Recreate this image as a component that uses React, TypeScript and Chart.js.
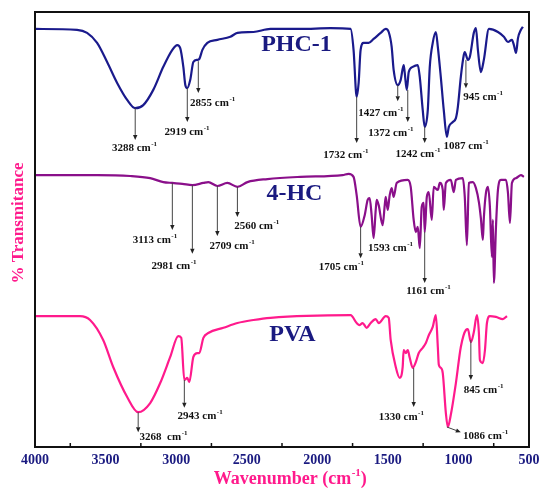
import React, { useEffect, useRef } from "react";
import { Chart, registerables } from "chart.js";

Chart.register(...registerables);

// ---- axis ----
const xMin = 500;
const xMax = 4000;
const xStep = 500;
const minorTicks = [3750, 3250, 2750, 2250, 1750, 1250, 750];

// ---- PHC-1 spectrum (wavenumber cm-1, transmittance a.u.) ----
const phcWn = [4000, 3702, 3631, 3560, 3489, 3418, 3347, 3290, 3233, 3162, 3091, 3027, 2992, 2971, 2949, 2935, 2921, 2900, 2878, 2850, 2836, 2814, 2779, 2708, 2616, 2566, 2452, 2332, 2119, 1906, 1764, 1743, 1721, 1707, 1693, 1672, 1636, 1601, 1551, 1515, 1494, 1473, 1459, 1430, 1409, 1388, 1381, 1366, 1352, 1324, 1288, 1274, 1253, 1239, 1217, 1203, 1182, 1160, 1146, 1125, 1104, 1082, 1068, 1040, 1018, 1004, 983, 962, 955, 933, 919, 891, 876, 862, 841, 820, 784, 720, 678, 649, 621, 607, 592, 578, 557, 543];
const phcT = [96.1, 95.9, 95.2, 92.9, 88.5, 83.7, 79.8, 77.9, 78.6, 82.1, 87.4, 91.3, 92.4, 91.7, 87.4, 83.2, 82.5, 84.4, 88.5, 89.0, 89.2, 91.3, 92.9, 93.6, 94.3, 95.2, 95.4, 96.1, 96.1, 96.3, 96.1, 91.3, 80.5, 83.7, 91.3, 92.9, 92.9, 93.8, 95.2, 96.1, 95.4, 92.0, 86.7, 83.2, 84.4, 87.8, 86.2, 82.1, 86.2, 87.4, 87.8, 85.1, 77.5, 73.6, 77.5, 87.4, 92.9, 95.4, 92.0, 85.1, 77.5, 71.3, 73.6, 74.7, 75.6, 78.2, 85.1, 90.1, 90.8, 89.0, 89.7, 95.2, 96.3, 91.3, 86.2, 89.0, 96.1, 95.4, 94.3, 93.1, 93.6, 92.4, 90.6, 94.0, 95.9, 96.6];

// ---- 4-HC spectrum ----
const hcWn = [4000, 3560, 3326, 3184, 3091, 3027, 2956, 2885, 2807, 2772, 2708, 2637, 2566, 2495, 2353, 2119, 1821, 1778, 1743, 1721, 1693, 1664, 1643, 1629, 1615, 1601, 1586, 1579, 1565, 1537, 1522, 1515, 1501, 1487, 1473, 1459, 1437, 1359, 1338, 1317, 1302, 1288, 1274, 1260, 1246, 1239, 1224, 1210, 1189, 1175, 1146, 1132, 1111, 1104, 1089, 1054, 1033, 1018, 969, 955, 940, 926, 898, 876, 855, 841, 827, 820, 805, 791, 777, 763, 756, 749, 734, 720, 699, 663, 649, 635, 621, 592, 557, 536];
const hcT = [62.5, 62.5, 62.3, 61.8, 60.9, 60.7, 60.5, 60.2, 60.7, 60.9, 60.0, 60.7, 59.8, 60.9, 61.6, 62.1, 62.5, 62.8, 62.1, 57.9, 50.6, 53.3, 56.8, 57.2, 53.3, 48.0, 54.5, 56.8, 55.6, 51.0, 55.6, 57.5, 54.5, 57.9, 59.5, 57.5, 60.7, 61.4, 59.8, 52.2, 49.4, 50.6, 45.7, 55.2, 56.1, 49.4, 57.5, 58.6, 52.2, 59.8, 59.1, 60.7, 59.1, 54.5, 60.7, 61.4, 58.6, 61.4, 61.8, 57.5, 46.4, 60.7, 60.9, 59.5, 56.3, 52.6, 47.6, 52.6, 58.4, 59.8, 55.2, 43.7, 52.2, 37.7, 50.6, 59.1, 61.4, 61.4, 58.4, 51.5, 60.7, 61.8, 62.5, 62.1];

// ---- PVA spectrum ----
const pvaWn = [4000, 3681, 3610, 3517, 3446, 3347, 3269, 3184, 3113, 3042, 2985, 2964, 2942, 2921, 2907, 2878, 2850, 2836, 2807, 2772, 2665, 2566, 2452, 2332, 1764, 1721, 1700, 1679, 1650, 1622, 1586, 1565, 1515, 1494, 1480, 1444, 1416, 1395, 1388, 1373, 1359, 1345, 1324, 1302, 1281, 1253, 1231, 1210, 1182, 1160, 1146, 1139, 1125, 1111, 1089, 1075, 1054, 1018, 983, 947, 933, 912, 891, 869, 855, 848, 827, 812, 798, 777, 734, 685, 656];
const pvaT = [30.1, 30.1, 29.2, 24.6, 18.4, 11.5, 8.0, 10.1, 14.7, 20.7, 25.5, 25.1, 15.4, 15.9, 14.9, 20.7, 21.6, 21.6, 25.1, 26.2, 27.4, 28.5, 29.2, 29.7, 30.3, 28.5, 28.0, 28.5, 27.4, 28.5, 29.4, 28.5, 30.1, 29.7, 24.6, 18.4, 15.9, 18.4, 22.3, 21.6, 22.3, 20.5, 18.2, 19.5, 21.6, 22.8, 23.9, 25.7, 27.6, 30.3, 23.0, 18.9, 18.2, 17.0, 7.8, 4.6, 7.4, 14.7, 23.0, 26.9, 27.1, 24.1, 26.4, 30.3, 26.2, 20.0, 19.3, 22.3, 28.5, 30.1, 29.9, 29.4, 30.1];

const seriesNames = ["PHC-1", "4-HC", "PVA"];

// ---- peak annotations (arrow from t1 to t2 at wn; label centred at lx/ly) ----
type Peak = { text: string; wn: number; t1: number | null; t2: number | null; wn2?: number; lx: number; ly: number };
const phcPeaks: Peak[] = [
  { text: "3288", wn: 3290, t1: 77.9, t2: 70.6, lx: 3297, ly: 68.7 },
  { text: "2919", wn: 2921, t1: 82.5, t2: 74.7, lx: 2925, ly: 72.4 },
  { text: "2855", wn: 2843, t1: 88.7, t2: 81.4, lx: 2743, ly: 79.1 },
  { text: "1732", wn: 1721, t1: 80.5, t2: 69.9, lx: 1799, ly: 67.1 },
  { text: "1427", wn: 1430, t1: 83.2, t2: 79.5, lx: 1551, ly: 76.8 },
  { text: "1372", wn: 1359, t1: 82.1, t2: 74.7, lx: 1480, ly: 72.2 },
  { text: "1242", wn: 1239, t1: 73.6, t2: 69.9, lx: 1288, ly: 67.4 },
  { text: "1087", wn: 1082, t1: null, t2: null, lx: 947, ly: 69.2 },
  { text: "945", wn: 947, t1: 89.0, t2: 82.5, lx: 827, ly: 80.5 },
];
const hcPeaks: Peak[] = [
  { text: "3113", wn: 3027, t1: 60.7, t2: 49.9, lx: 3152, ly: 47.6 },
  { text: "2981", wn: 2885, t1: 60.2, t2: 44.4, lx: 3017, ly: 41.6 },
  { text: "2709", wn: 2708, t1: 60.0, t2: 48.5, lx: 2605, ly: 46.2 },
  { text: "2560", wn: 2566, t1: 59.8, t2: 52.9, lx: 2431, ly: 50.8 },
  { text: "1705", wn: 1693, t1: 50.6, t2: 43.4, lx: 1831, ly: 41.4 },
  { text: "1593", wn: 1601, t1: null, t2: null, lx: 1483, ly: 45.7 },
  { text: "1161", wn: 1239, t1: 49.4, t2: 37.7, lx: 1214, ly: 35.9 },
];
const pvaPeaks: Peak[] = [
  { text: "3268 ", wn: 3269, t1: 8.0, t2: 3.4, lx: 3091, ly: 2.3 },
  { text: "2943", wn: 2942, t1: 15.4, t2: 9.0, lx: 2832, ly: 7.1 },
  { text: "1330", wn: 1317, t1: 18.2, t2: 9.2, lx: 1406, ly: 6.9 },
  { text: "1086", wn: 1082, t1: 4.6, t2: 3.4, wn2: 983, lx: 809, ly: 2.5 },
  { text: "845", wn: 912, t1: 24.6, t2: 15.4, lx: 823, ly: 13.1 },
];
const seriesLabelWn = [2147, 2162, 2176];
const seriesLabelT = [92.4, 58.2, 25.7];

const COLORS = ["#1a1a8c", "#8a0f8a", "#ff1a8c"];
const NAVY = "#1a1a80";
const PINK = "#ff1a8c";
const SERIF = "'Liberation Serif', 'Times New Roman', serif";

function toPoints(wn: number[], t: number[]) {
  return wn.map((w, i) => ({ x: w, y: t[i] }));
}

function drawArrow(ctx: CanvasRenderingContext2D, x1: number, y1: number, x2: number, y2: number) {
  const ang = Math.atan2(y2 - y1, x2 - x1);
  const L = 5;
  const W = 2.2;
  const c = Math.cos(ang);
  const s = Math.sin(ang);
  ctx.beginPath();
  ctx.moveTo(x1, y1);
  ctx.lineTo(x2 - L * c, y2 - L * s);
  ctx.stroke();
  ctx.beginPath();
  ctx.moveTo(x2, y2);
  ctx.lineTo(x2 - L * c + W * s, y2 - L * s - W * c);
  ctx.lineTo(x2 - L * c - W * s, y2 - L * s + W * c);
  ctx.closePath();
  ctx.fill();
}

function supText(ctx: CanvasRenderingContext2D, main: string, sup: string, tail: string, cx: number, cy: number, size: number, supSize: number, rise: number) {
  ctx.textBaseline = "middle";
  ctx.textAlign = "left";
  ctx.font = `bold ${size}px ${SERIF}`;
  const w1 = ctx.measureText(main).width;
  const w3 = ctx.measureText(tail).width;
  ctx.font = `bold ${supSize}px ${SERIF}`;
  const w2 = ctx.measureText(sup).width;
  const x0 = cx - (w1 + w2 + w3) / 2;
  ctx.font = `bold ${size}px ${SERIF}`;
  ctx.fillText(main, x0, cy);
  if (tail) ctx.fillText(tail, x0 + w1 + w2 + 0.5, cy);
  ctx.font = `bold ${supSize}px ${SERIF}`;
  ctx.fillText(sup, x0 + w1 + 0.5, cy - rise);
}

const decorPlugin = {
  id: "decor",
  afterDatasetsDraw(chart: any) {
    const { ctx, chartArea, scales } = chart;
    const xs = scales.x;
    const ys = scales.y;
    ctx.save();
    // frame
    ctx.strokeStyle = "#111";
    ctx.lineWidth = 2;
    ctx.strokeRect(chartArea.left, chartArea.top, chartArea.right - chartArea.left, chartArea.bottom - chartArea.top);
    // minor ticks (inward)
    ctx.lineWidth = 1.5;
    minorTicks.forEach((v) => {
      const px = xs.getPixelForValue(v);
      ctx.beginPath();
      ctx.moveTo(px, chartArea.bottom);
      ctx.lineTo(px, chartArea.bottom - 4);
      ctx.stroke();
    });
    // series labels
    ctx.fillStyle = NAVY;
    ctx.font = `bold 24px ${SERIF}`;
    ctx.textAlign = "center";
    ctx.textBaseline = "middle";
    seriesNames.forEach((n, i) => {
      ctx.fillText(n, xs.getPixelForValue(seriesLabelWn[i]), ys.getPixelForValue(seriesLabelT[i]));
    });
    // peaks
    [phcPeaks, hcPeaks, pvaPeaks].forEach((list) => {
      list.forEach((p) => {
        if (p.t1 !== null && p.t2 !== null) {
          ctx.strokeStyle = "#444";
          ctx.fillStyle = "#222";
          ctx.lineWidth = 1;
          const x1 = xs.getPixelForValue(p.wn);
          const x2 = xs.getPixelForValue(p.wn2 ?? p.wn);
          drawArrow(ctx, x1, ys.getPixelForValue(p.t1), x2, ys.getPixelForValue(p.t2));
        }
        ctx.fillStyle = "#111";
        supText(ctx, p.text + " cm", "-1", "", xs.getPixelForValue(p.lx), ys.getPixelForValue(p.ly), 11, 7, 4);
      });
    });
    // axis titles
    ctx.fillStyle = PINK;
    supText(ctx, "Wavenumber (cm", "-1", ")", 290, 479, 18, 11, 6);
    ctx.translate(19, 223);
    ctx.rotate(-Math.PI / 2);
    ctx.font = `bold 17px ${SERIF}`;
    ctx.textAlign = "center";
    ctx.textBaseline = "middle";
    ctx.fillText("% Transmitance", 0, 0);
    ctx.restore();
  },
};

export default function App() {
  const ref = useRef<HTMLCanvasElement | null>(null);
  useEffect(() => {
    if (!ref.current) return;
    const mk = (label: string, wn: number[], t: number[], color: string) => ({
      label,
      data: toPoints(wn, t),
      borderColor: color,
      backgroundColor: color,
      borderWidth: 2.2,
      pointRadius: 0,
      fill: false,
      cubicInterpolationMode: "monotone" as const,
    });
    const chart = new Chart(ref.current, {
      type: "line",
      data: {
        datasets: [
          mk(seriesNames[0], phcWn, phcT, COLORS[0]),
          mk(seriesNames[1], hcWn, hcT, COLORS[1]),
          mk(seriesNames[2], pvaWn, pvaT, COLORS[2]),
        ],
      },
      options: {
        animation: false,
        responsive: false,
        maintainAspectRatio: false,
        layout: { autoPadding: false, padding: { left: 35, right: 10, top: 12, bottom: 0 } },
        plugins: { legend: { display: false }, tooltip: { enabled: false } },
        scales: {
          x: {
            type: "linear",
            reverse: true,
            min: xMin,
            max: xMax,
            grid: { display: false, drawTicks: false },
            border: { display: false },
            ticks: {
              stepSize: xStep,
              autoSkip: false,
              maxRotation: 0,
              padding: 5,
              color: NAVY,
              font: { family: "Liberation Serif", weight: "bold", size: 14 },
              callback: (v: any) => String(v),
            },
            afterFit(scale: any) {
              scale.height = 41;
              scale.paddingLeft = 0;
              scale.paddingRight = 0;
            },
          },
          y: {
            type: "linear",
            display: false,
            min: 0,
            max: 100,
          },
        },
      },
      plugins: [decorPlugin],
    } as any);
    return () => chart.destroy();
  }, []);
  return (
    <div style={{ position: "absolute", left: 0, top: 0, width: 539, height: 488, background: "#fff" }}>
      <canvas ref={ref} width={539} height={488} style={{ width: 539, height: 488 }} />
    </div>
  );
}
